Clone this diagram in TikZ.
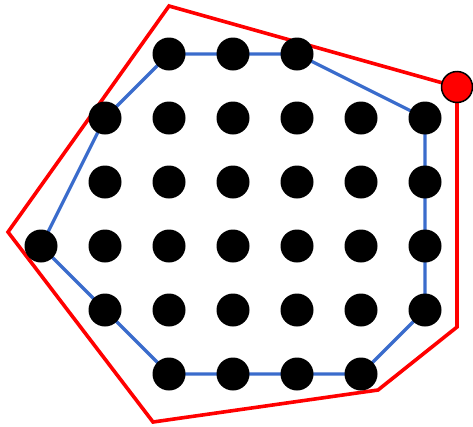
\documentclass[tikz,border=0pt]{standalone}
\begin{document}
\begin{tikzpicture}[x=1pt,y=-1pt,
  dot/.style={circle,fill=black,inner sep=0pt,minimum size=33pt},
  reddot/.style={circle,fill=red,draw=black,line width=1.5pt,inner sep=0pt,minimum size=31pt},
  hullred/.style={draw=red,line width=3.6pt,line join=miter},
  hullblue/.style={draw=blueline,line width=3.3pt}]
\definecolor{blueline}{RGB}{58,108,204}
\useasboundingbox (0,0) rectangle (473,426);
% coordinates for red hull
\coordinate (r1) at (169,6);
\coordinate (r3) at (457,327);
\coordinate (r4) at (378,390);
\coordinate (r5) at (153,422);
\coordinate (r6) at (8,232);
% dots
\foreach \x/\y/\n in {169/54/a1,233/54/a2,297/54/a3,
  105/118/b1,169/118/b2,233/118/b3,297/118/b4,361/118/b5,425/118/b6,
  105/182/c1,169/182/c2,233/182/c3,297/182/c4,361/182/c5,425/182/c6,
  41/246/d0,105/246/d1,169/246/d2,233/246/d3,297/246/d4,361/246/d5,425/246/d6,
  105/310/e1,169/310/e2,233/310/e3,297/310/e4,361/310/e5,425/310/e6,
  169/374/f2,233/374/f3,297/374/f4,361/374/f5}
  \coordinate (\n) at (\x,\y);
\coordinate (rd) at (457,87);
% red hull
\draw[hullred] (r1) -- (rd.center) -- (r3) -- (r4) -- (r5) -- (r6) -- cycle;
% blue hull
\draw[hullblue] (a1) -- (a3) -- (b6) -- (e6) -- (f5) -- (f2) -- (e1) -- (d0) -- (b1) -- cycle;
% black dots
\foreach \n in {a1,a2,a3,b1,b2,b3,b4,b5,b6,c1,c2,c3,c4,c5,c6,d0,d1,d2,d3,d4,d5,d6,e1,e2,e3,e4,e5,e6,f2,f3,f4,f5}
  \node[dot] (n\n) at (\n) {};
\node[reddot] (red) at (rd) {};
\end{tikzpicture}
\end{document}
